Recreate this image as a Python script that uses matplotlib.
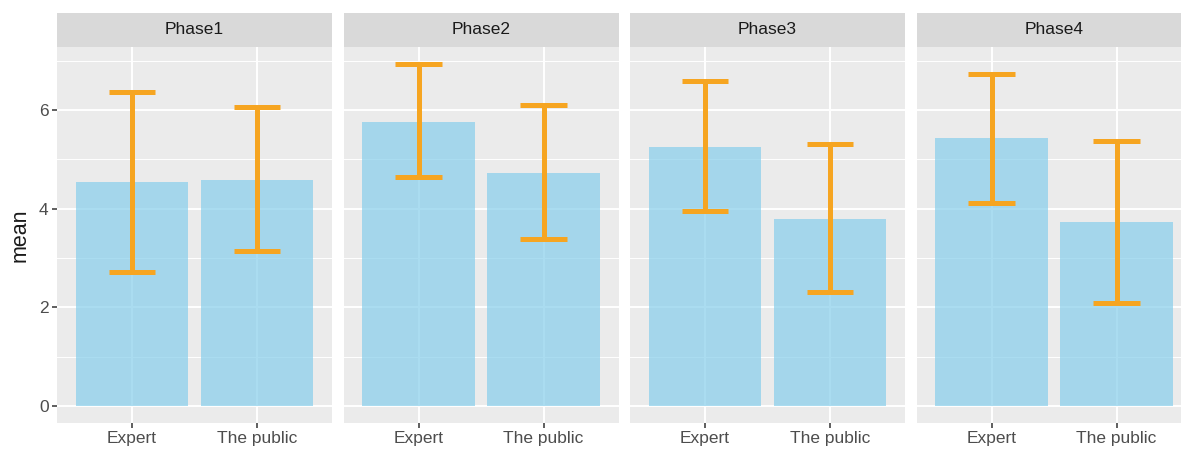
import numpy as np
import matplotlib
matplotlib.use('Agg')
import matplotlib.pyplot as plt
from matplotlib.patches import Rectangle
from matplotlib.ticker import MultipleLocator

plt.rcParams['font.family'] = ['Liberation Sans', 'DejaVu Sans']

# Data
phases = ['Phase1', 'Phase2', 'Phase3', 'Phase4']
groups = ['Expert', 'The public']

expert_mean = [4.53, 5.76, 5.24, 5.43]
expert_upper = [6.37, 6.93, 6.59, 6.73]
expert_lower = [2.72, 4.65, 3.95, 4.12]

public_mean = [4.58, 4.72, 3.78, 3.72]
public_upper = [6.05, 6.10, 5.31, 5.37]
public_lower = [3.15, 3.39, 2.30, 2.09]

# Figure setup (pixel layout of the reference)
W, H = 1181, 449
fig = plt.figure(figsize=(W / 100, H / 100), dpi=100)

panel_left = [57, 343.5, 630, 916.5]
panel_w = 275
panel_top, panel_bot = 47, 423
strip_h = 34

bar_color = '#87CEEB'
err_color = '#F6A521'
panel_bg = '#EBEBEB'
strip_bg = '#D9D9D9'

ymax = max(max(expert_upper), max(public_upper))
pad = 0.05 * ymax
x = np.arange(1, len(groups) + 1)

for i, phase in enumerate(phases):
    ax = fig.add_axes([panel_left[i] / W, (H - panel_bot) / H,
                       panel_w / W, (panel_bot - panel_top) / H])
    ax.set_facecolor(panel_bg)
    for s in ax.spines.values():
        s.set_visible(False)

    means = [expert_mean[i], public_mean[i]]
    lows = [expert_lower[i], public_lower[i]]
    highs = [expert_upper[i], public_upper[i]]

    ax.bar(x, means, width=0.9, color=bar_color, alpha=0.7, zorder=2)
    ax.vlines(x, lows, highs, color=err_color, lw=3.6, zorder=3)
    ax.hlines(lows, x - 0.185, x + 0.185, color=err_color, lw=3.6, zorder=3)
    ax.hlines(highs, x - 0.185, x + 0.185, color=err_color, lw=3.6, zorder=3)

    ax.set_xlim(0.4, 2.6)
    ax.set_ylim(-pad, ymax + pad)
    ax.yaxis.set_major_locator(MultipleLocator(2))
    ax.yaxis.set_minor_locator(MultipleLocator(1))
    ax.set_xticks(x)
    ax.set_xticklabels(groups)

    ax.grid(True, which='major', color='white', lw=1.4, zorder=0)
    ax.grid(True, which='minor', axis='y', color='white', lw=0.7, zorder=0)
    ax.set_axisbelow(True)

    ax.tick_params(axis='both', which='major', length=3.5, width=1.1,
                   color='#333333', labelcolor='#4D4D4D', labelsize=12.5, pad=2.5)
    ax.tick_params(axis='y', which='minor', length=0)
    if i > 0:
        ax.tick_params(axis='y', which='both', left=False, labelleft=False)
    else:
        ax.set_ylabel('mean', fontsize=15.5, color='#1A1A1A', labelpad=6)

    # facet strip
    sh = strip_h / (panel_bot - panel_top)
    ax.add_patch(Rectangle((0, 1), 1, sh, transform=ax.transAxes,
                           facecolor=strip_bg, edgecolor='none', clip_on=False))
    ax.text(0.5, 1 + sh / 2, phase, transform=ax.transAxes, ha='center',
            va='center', fontsize=12.5, color='#1A1A1A')

fig.savefig('out.png', dpi=100, facecolor='white')
